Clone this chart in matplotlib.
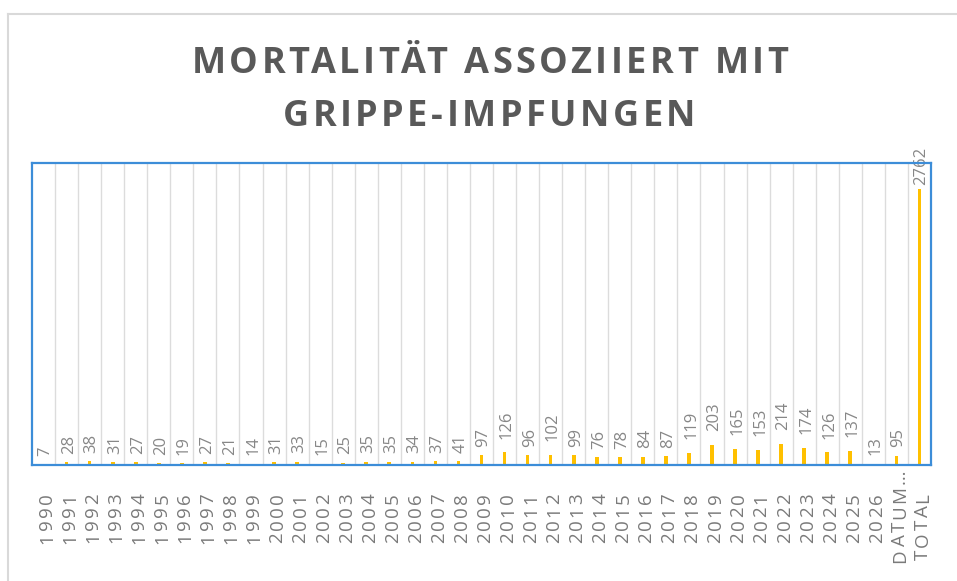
import matplotlib
matplotlib.use('Agg')
import matplotlib.pyplot as plt
from matplotlib.lines import Line2D
from matplotlib.font_manager import FontProperties
from matplotlib.transforms import IdentityTransform

FAMILIE = ['Open Sans', 'DejaVu Sans']
plt.rcParams['font.family'] = FAMILIE

# Daten aus dem Diagramm
jahre = ['1990', '1991', '1992', '1993', '1994', '1995', '1996', '1997', '1998', '1999',
         '2000', '2001', '2002', '2003', '2004', '2005', '2006', '2007', '2008', '2009',
         '2010', '2011', '2012', '2013', '2014', '2015', '2016', '2017', '2018', '2019',
         '2020', '2021', '2022', '2023', '2024', '2025', '2026', 'DATUM…', 'TOTAL']
werte = [7, 28, 38, 31, 27, 20, 19, 27, 21, 14,
         31, 33, 15, 25, 35, 35, 34, 37, 41, 97,
         126, 96, 102, 99, 76, 78, 84, 87, 119, 203,
         165, 153, 214, 174, 126, 137, 13, 95, 2762]
titel_zeilen = ['MORTALITÄT ASSOZIIERT MIT', 'GRIPPE-IMPFUNGEN']

W, H = 957, 581
grau = '#7a7a7a'
fig = plt.figure(figsize=(W / 100, H / 100), dpi=100)
fig.patch.set_facecolor('white')
renderer = fig.canvas.get_renderer()


def gesperrt(text, x, y, size, sperrung, weight='normal', color=grau, rotation=0):
    """Text mit Buchstabenabstand zeichnen (Pixelkoordinaten, y von oben)."""
    prop = FontProperties(family=FAMILIE, size=size, weight=weight)

    def breite(t):
        return renderer.get_text_width_height_descent(t, prop, ismath=False)[0]

    gesamt = breite(text) + sperrung * (len(text) - 1)
    if rotation == 0:
        start = x - gesamt / 2
    else:
        # senkrecht, von unten nach oben gelesen; y = oberes Ende
        start = (H - y) - gesamt
        cap = renderer.get_text_width_height_descent('H', prop, ismath=False)[1]
    for i, c in enumerate(text):
        if c == ' ':
            continue
        off = breite(text[:i + 1]) - breite(c) + sperrung * i
        if rotation == 0:
            fig.text(start + off, H - y, c, fontproperties=prop, color=color,
                     ha='left', va='baseline', transform=IdentityTransform())
        else:
            fig.text(x + cap / 2, start + off, c, fontproperties=prop, color=color,
                     rotation=90, rotation_mode='anchor', ha='left', va='baseline',
                     transform=IdentityTransform())


# heller Rahmen oben und links
fig.add_artist(Line2D([8 / W, 1], [1 - 14 / H, 1 - 14 / H], color='#d9d9d9', lw=1.5, transform=fig.transFigure))
fig.add_artist(Line2D([8 / W, 8 / W], [0, 1 - 14 / H], color='#d9d9d9', lw=1.5, transform=fig.transFigure))

ax = fig.add_axes([32 / W, 116 / H, 899 / W, 302 / H])
x = list(range(len(werte)))
ax.bar(x, werte, width=0.16, color='#FFC000', zorder=3)

for i, v in zip(x, werte):
    abstand = {1: 6, 2: 6, 3: 10}.get(len(str(v)), 3)
    ax.annotate(str(v), (i, v), xytext=(1.5, abstand), textcoords='offset points',
                rotation=90, ha='center', va='bottom', color='#878787', fontsize=12,
                annotation_clip=False, zorder=1)

for i in range(len(werte) - 1):
    ax.axvline(i + 0.5, color='#dcdcdc', lw=1, zorder=0)

ax.set_xlim(-0.5, len(werte) - 0.5)
ax.set_ylim(0, 3020)
ax.set_yticks([])
ax.set_xticks(x)
ax.set_xticklabels([])
ax.tick_params(axis='x', length=0)
for s in ax.spines.values():
    s.set_color('#3c8dd8')
    s.set_linewidth(1.6)
    s.set_zorder(5)

# Achsenbeschriftung mit Sperrung
for i, lbl in zip(x, jahre):
    px = ax.transData.transform((i, 0))[0] + 2
    oben = 469 if lbl.endswith('…') else 493
    gesperrt(lbl, px, oben, 13.5, 2.5, color=grau, rotation=90)

# Titel
gesperrt(titel_zeilen[0], 490, 73, 26, 3.5, weight='bold', color='#595959')
gesperrt(titel_zeilen[1], 489, 126, 26, 3.5, weight='bold', color='#595959')

fig.savefig('out.png', dpi=100)
